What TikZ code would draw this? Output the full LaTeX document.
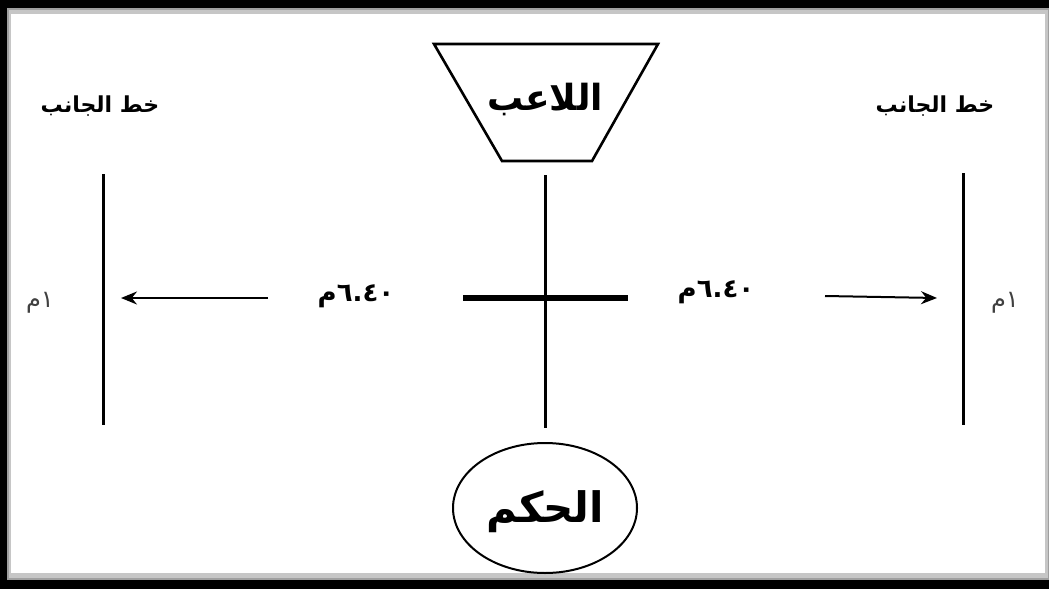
\documentclass[tikz,border=0pt]{standalone}
\usepackage{fontspec}
\usetikzlibrary{shapes.geometric,arrows.meta}
\TeXXeTstate=1
\newfontfamily\arabicfont[Script=Arabic]{DejaVu Sans}
\begin{document}
\begin{tikzpicture}[x=1pt,y=-1pt,
  lbl/.style={font=\arabicfont\bfseries, inner sep=0pt},
  ln/.style={line width=3pt, black},
  arr/.style={line width=2pt, -{Stealth[length=16pt,width=13pt]}}]
\useasboundingbox (0,0) rectangle (1049,589);
% frame
\fill[black] (0,0) rectangle (1049,589);
\fill[gray!75] (7,8) rectangle (1049,580);
\fill[gray!45] (9,10) rectangle (1048,578);
\fill[white] (11,14) rectangle (1045,573);
% player trapezoid
\draw[line width=2.6pt, fill=white] (434,44) -- (658,44) -- (592,161) -- (502,161) -- cycle;
\node[lbl, font=\arabicfont\bfseries\fontsize{36}{38}\selectfont] (player) at (545,100) {\beginR اللاعب\endR};
\coordinate (ptop) at (545,175);
\coordinate (pbot) at (545,428);
\draw[ln] (ptop) -- (pbot);
\coordinate (hl) at (463,298);
\coordinate (hr) at (628,298);
\draw[line width=6pt] (hl) -- (hr);
% side lines
\coordinate (l1) at (103,174);
\coordinate (l2) at (103,425);
\coordinate (r1) at (963,173);
\coordinate (r2) at (963,425);
\draw[ln] (l1) -- (l2);
\draw[ln] (r1) -- (r2);
\node[lbl, font=\arabicfont\bfseries\fontsize{22}{24}\selectfont] (sideL) at (100,106) {\beginR خط الجانب\endR};
\node[lbl, font=\arabicfont\bfseries\fontsize{22}{24}\selectfont] (sideR) at (935,106) {\beginR خط الجانب\endR};
% distance labels
\node[lbl, font=\arabicfont\bfseries\fontsize{26}{28}\selectfont] (dL) at (356,296) {\beginR\beginL ٦.٤٠\endL م\endR};
\node[lbl, font=\arabicfont\bfseries\fontsize{26}{28}\selectfont] (dR) at (716,292) {\beginR\beginL ٦.٤٠\endL م\endR};
\coordinate (aL1) at (268,298);
\coordinate (aL2) at (121,298);
\coordinate (aR1) at (825,296);
\coordinate (aR2) at (937,298);
\draw[arr] (aL1) -- (aL2);
\draw[arr] (aR1) -- (aR2);
% 1m labels
\node[lbl, text=black!75, font=\arabicfont\fontsize{24}{26}\selectfont] (mL) at (40,303) {\beginR\beginL ١\endL م\endR};
\node[lbl, text=black!75, font=\arabicfont\fontsize{24}{26}\selectfont] (mR) at (1005,303) {\beginR\beginL ١\endL م\endR};
% referee
\node[ellipse, draw, line width=2pt, minimum width=184pt, minimum height=130pt, inner sep=0pt] (ref) at (545,508) {};
\node[lbl, font=\arabicfont\bfseries\fontsize{42}{44}\selectfont] (refl) at (545,512) {\beginR الحكم\endR};
\end{tikzpicture}
\end{document}
